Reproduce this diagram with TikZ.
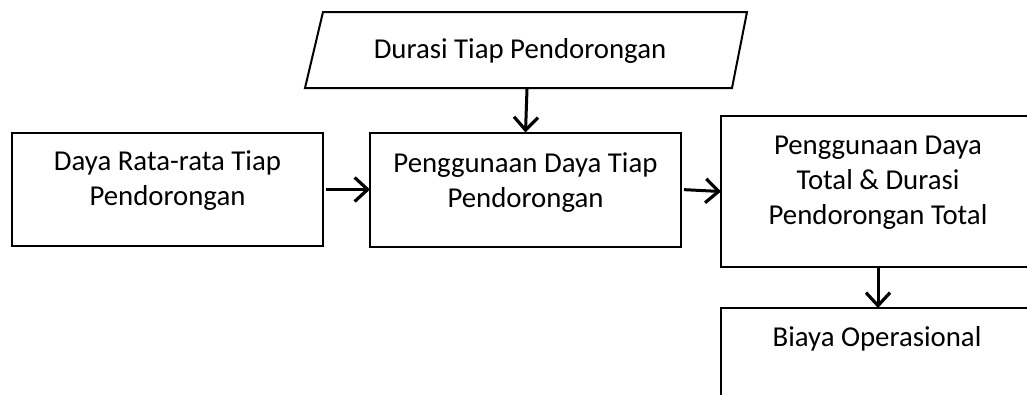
\documentclass[tikz,border=0pt]{standalone}
\usepackage{fontspec}
\setmainfont{Carlito}
\usetikzlibrary{arrows.meta}
\begin{document}
\begin{tikzpicture}[x=1pt,y=-1pt,
  box/.style={draw=black,line width=2pt,rectangle,inner sep=0pt,outer sep=0pt},
  txt/.style={align=center,inner sep=0pt,font=\fontsize{28.8}{35.1}\selectfont},
  conn/.style={line width=3pt,-{Straight Barb[length=13pt,width=24pt,line width=3.2pt]}}]
\useasboundingbox (0,0) rectangle (1027,394);
\clip (0,0) rectangle (1027,394);
% parallelogram
\draw[line width=2pt,line join=miter] (323,12) -- (747,12) -- (732,88) -- (305,88) -- cycle;
\coordinate (pb) at (527,89);
\node[txt] (ptxt) at (520,51) {Durasi Tiap Pendorongan};
% boxes
\node[box,minimum width=311pt,minimum height=113pt] (A) at (167.5,189.5) {};
\node[box,minimum width=311pt,minimum height=114pt] (B) at (525.5,189.5) {};
\node[box,minimum width=314pt,minimum height=151pt] (C) at (878,191.5) {};
\node[box,minimum width=314pt,minimum height=160pt] (D) at (878,388) {};
\node[txt] (Atxt) at (167.5,181) {Daya Rata-rata Tiap\\Pendorongan};
\node[txt] (Btxt) at (525.5,183) {Penggunaan Daya Tiap\\Pendorongan};
\node[txt] (Ctxt) at (878,183) {Penggunaan Daya\\Total \& Durasi\\Pendorongan Total};
\node[txt] (Dtxt) at (877,339) {Biaya Operasional};
% connectors
\draw[conn] (pb) -- (B.north);
\draw[conn,shorten <=3pt] (A.east) -- (B.west);
\draw[conn,shorten <=3pt] (B.east) -- (C.west);
\draw[conn] (C.south) -- (D.north);
\end{tikzpicture}
\end{document}
